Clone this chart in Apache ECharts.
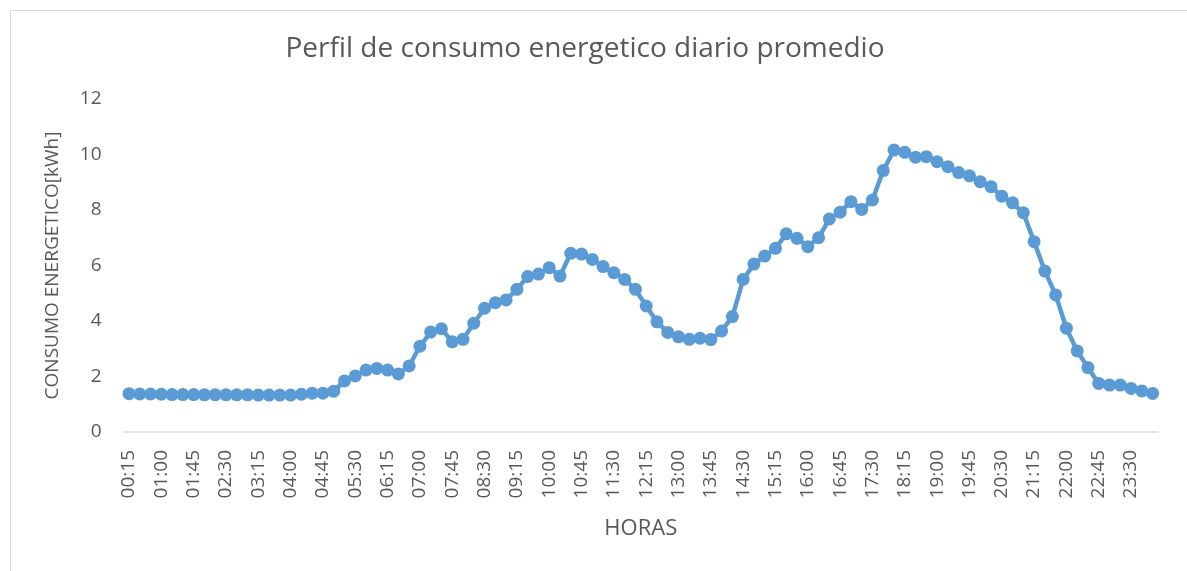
<!DOCTYPE html>
<html>
<head>
<meta charset="utf-8">
<script src="https://cdn.jsdelivr.net/npm/echarts@6/dist/echarts.min.js"></script>
<style>
html,body{margin:0;padding:0;background:#fff;overflow:hidden;}
#frame{position:absolute;left:10px;top:10px;width:1200px;height:600px;border:1px solid #d9d9d9;box-sizing:border-box;}
#c{position:absolute;left:0;top:0;width:1187px;height:571px;}
</style>
</head>
<body>
<div id="frame"></div>
<div id="c"></div>
<script>
const titleText = "Perfil de consumo energetico diario promedio";
const yAxisName = "CONSUMO ENERGETICO[kWh]";
const xAxisName = "HORAS";
const horas = ["00:15","00:30","00:45","01:00","01:15","01:30","01:45","02:00","02:15","02:30","02:45","03:00",
"03:15","03:30","03:45","04:00","04:15","04:30","04:45","05:00","05:15","05:30","05:45","06:00",
"06:15","06:30","06:45","07:00","07:15","07:30","07:45","08:00","08:15","08:30","08:45","09:00",
"09:15","09:30","09:45","10:00","10:15","10:30","10:45","11:00","11:15","11:30","11:45","12:00",
"12:15","12:30","12:45","13:00","13:15","13:30","13:45","14:00","14:15","14:30","14:45","15:00",
"15:15","15:30","15:45","16:00","16:15","16:30","16:45","17:00","17:15","17:30","17:45","18:00",
"18:15","18:30","18:45","19:00","19:15","19:30","19:45","20:00","20:15","20:30","20:45","21:00",
"21:15","21:30","21:45","22:00","22:15","22:30","22:45","23:00","23:15","23:30","23:45","00:00"];
const consumo = [1.38,1.37,1.37,1.36,1.35,1.35,1.35,1.34,1.34,1.34,1.34,1.34,
1.33,1.33,1.33,1.33,1.36,1.40,1.40,1.47,1.84,2.02,2.23,2.29,
2.23,2.09,2.38,3.09,3.60,3.72,3.25,3.34,3.92,4.46,4.66,4.76,
5.14,5.60,5.69,5.92,5.62,6.44,6.41,6.22,5.96,5.74,5.50,5.14,
4.54,3.97,3.59,3.43,3.34,3.38,3.33,3.64,4.16,5.50,6.05,6.34,
6.62,7.14,6.98,6.68,7.00,7.68,7.92,8.30,8.02,8.36,9.42,10.16,
10.08,9.90,9.92,9.74,9.56,9.35,9.23,9.02,8.84,8.50,8.26,7.90,
6.86,5.80,4.94,3.74,2.92,2.32,1.75,1.69,1.69,1.57,1.48,1.39];
const yTicks = {min:0, max:12, interval:2};

const chart = echarts.init(document.getElementById('c'), null, {renderer:'canvas'});
const font = "'Open Sans', sans-serif";
chart.setOption({
  animation:false,
  backgroundColor:'transparent',
  title:{text:titleText, left:580, top:30, textAlign:'center',
    textStyle:{fontFamily:font, fontSize:28, fontWeight:'normal', color:'#595959'}},
  grid:{left:123.6, right:29, top:99, bottom:139, containLabel:false},
  xAxis:{type:'category', data:horas, boundaryGap:true,
    name:xAxisName, nameLocation:'middle', nameGap:86,
    nameTextStyle:{fontFamily:font, fontSize:22, color:'#595959'},
    axisLine:{lineStyle:{color:'#d9d9d9', width:1.5}},
    axisTick:{show:false},
    axisLabel:{interval:2, rotate:90, margin:18, fontFamily:font, fontSize:19, color:'#595959'},
    splitLine:{show:false}},
  yAxis:{type:'value', min:yTicks.min, max:yTicks.max, interval:yTicks.interval,
    name:yAxisName, nameLocation:'middle', nameGap:62,
    nameTextStyle:{fontFamily:font, fontSize:19, color:'#595959'},
    axisLine:{show:false}, axisTick:{show:false},
    axisLabel:{margin:22, fontFamily:font, fontSize:19, color:'#595959'},
    splitLine:{show:false}},
  series:[{type:'line', data:consumo, symbol:'circle', symbolSize:13, showAllSymbol:true,
    itemStyle:{color:'#5b9bd5'}, lineStyle:{color:'#5b9bd5', width:4.5}}]
});
</script>
</body>
</html>
